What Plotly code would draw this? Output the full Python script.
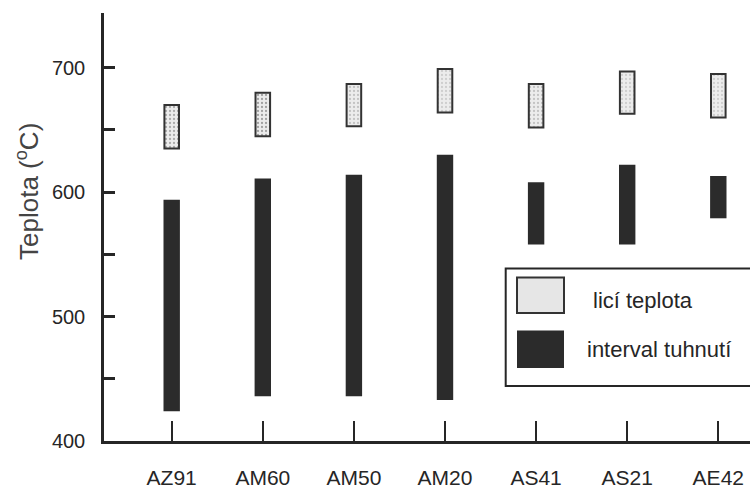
import plotly.graph_objects as go

# Magnesium alloys and their temperature ranges (°C)
alloys = ["AZ91", "AM60", "AM50", "AM20", "AS41", "AS21", "AE42"]
pour_low = [635, 645, 653, 664, 652, 663, 660]
pour_high = [670, 680, 687, 699, 687, 697, 695]
solid_low = [424, 436, 436, 433, 558, 558, 579]
solid_high = [594, 611, 614, 630, 608, 622, 613]

legend_names = ["licí teplota", "interval tuhnutí"]

W, H = 750, 493
ML, MR, MT, MB = 104, 0, 13, 52
PW, PH = W - ML - MR, H - MT - MB

INK = "#262626"
FONT = "Liberation Sans, Arial, sans-serif"

xpos = list(range(len(alloys)))


def px_x(p):
    return (p - ML) / PW


def px_y(p):
    return (H - MB - p) / PH


fig = go.Figure()

fig.add_trace(go.Bar(
    x=xpos,
    y=[h - l for l, h in zip(solid_low, solid_high)],
    base=solid_low,
    width=0.18,
    marker=dict(color="#2b2b2b", line=dict(width=0)),
    name=legend_names[1],
    showlegend=False,
))

fig.add_trace(go.Bar(
    x=xpos,
    y=[h - l for l, h in zip(pour_low, pour_high)],
    base=pour_low,
    width=0.16,
    marker=dict(
        color="#ececec",
        line=dict(color="#333333", width=2),
        pattern=dict(shape=".", size=4, solidity=0.25,
                     fgcolor=["#6a6a6a", "#555555", "#9a9a9a", "#b0b0b0",
                              "#9a9a9a", "#b0b0b0", "#b0b0b0"],
                     fillmode="overlay"),
    ),
    name=legend_names[0],
    showlegend=False,
))

# Legend box with swatches
shapes = [
    dict(type="rect", xref="paper", yref="paper",
         x0=px_x(505.7), x1=px_x(770), y0=px_y(386), y1=px_y(268.5),
         line=dict(color=INK, width=2), fillcolor="white", layer="above"),
    dict(type="rect", xref="paper", yref="paper",
         x0=px_x(517), x1=px_x(564), y0=px_y(313), y1=px_y(277.5),
         line=dict(color="#333333", width=2), fillcolor="#e6e6e6", layer="above"),
    dict(type="rect", xref="paper", yref="paper",
         x0=px_x(517), x1=px_x(564), y0=px_y(368), y1=px_y(330.5),
         line=dict(width=0), fillcolor="#2b2b2b", layer="above"),
]

annotations = [
    dict(text=legend_names[0], xref="paper", yref="paper",
         x=px_x(591), y=px_y(300), xanchor="left", yanchor="middle",
         showarrow=False, font=dict(family=FONT, size=22, color=INK)),
    dict(text=legend_names[1], xref="paper", yref="paper",
         x=px_x(585), y=px_y(349), xanchor="left", yanchor="middle",
         showarrow=False, font=dict(family=FONT, size=22, color=INK)),
    dict(text="Teplota (<sup>o</sup>C)", xref="paper", yref="paper",
         x=px_x(27), y=px_y(192), xanchor="center", yanchor="middle",
         textangle=-90, showarrow=False,
         font=dict(family=FONT, size=26, color="#444444")),
]

fig.update_layout(
    width=W, height=H,
    margin=dict(l=ML, r=MR, t=MT, b=MB, pad=0, autoexpand=False),
    paper_bgcolor="white", plot_bgcolor="white",
    barmode="overlay",
    showlegend=False,
    shapes=shapes,
    annotations=annotations,
    font=dict(family=FONT, color=INK),
)

fig.update_xaxes(
    range=[(ML - 171.7) / 91.1, (W - 171.7) / 91.1],
    tickmode="array", tickvals=xpos, ticktext=alloys,
    ticks="inside", ticklen=20, tickwidth=2, tickcolor=INK,
    showline=True, linewidth=2.5, linecolor=INK,
    showgrid=False, zeroline=False,
    tickfont=dict(family=FONT, size=21, color=INK),
    ticklabelposition="outside",
    ticklabelstandoff=16,
    automargin=False,
)

fig.update_yaxes(
    range=[400, 744],
    tickmode="array", tickvals=[400, 500, 600, 700],
    ticks="inside", ticklen=11, tickwidth=2.5, tickcolor=INK,
    minor=dict(tickmode="array", tickvals=[450, 550, 650],
               ticks="inside", ticklen=11, tickwidth=2.5, tickcolor=INK),
    showline=True, linewidth=2.5, linecolor=INK,
    showgrid=False, zeroline=False,
    tickfont=dict(family=FONT, size=20, color=INK),
    ticklabelstandoff=12,
    automargin=False,
)

fig.write_html("out.html")
